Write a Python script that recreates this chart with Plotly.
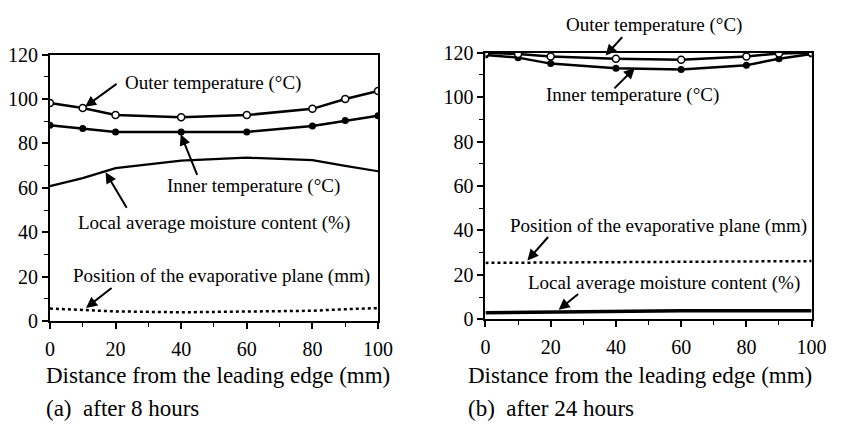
import plotly.graph_objects as go

W, H = 852, 428

# ---- data ----
x_pos = [0, 10, 20, 40, 60, 80, 90, 100]

a_outer = [98.2, 96.0, 92.8, 91.8, 92.8, 95.6, 100.0, 103.6]
a_inner = [88.2, 86.8, 85.2, 85.2, 85.2, 87.9, 90.3, 92.5]
a_moist = [60.8, 64.4, 68.9, 72.3, 73.6, 72.5, 69.9, 67.5]
a_plane = [5.7, 5.0, 4.4, 4.0, 4.3, 4.7, 5.4, 5.9]

b_outer = [120.0, 119.4, 118.3, 117.3, 116.8, 118.3, 119.7, 120.0]
b_inner = [119.0, 117.8, 115.1, 113.0, 112.5, 114.4, 117.3, 119.4]
b_moist = [2.9, 3.1, 3.3, 3.6, 3.9, 3.9, 3.9, 3.9]
b_plane = [25.4, 25.5, 25.6, 25.7, 25.8, 25.9, 26.0, 26.2]

x_ticks = [0, 20, 40, 60, 80, 100]
y_ticks = [0, 20, 40, 60, 80, 100, 120]

lbl_outer = "Outer temperature (°C)"
lbl_inner = "Inner temperature (°C)"
lbl_moist = "Local average moisture content (%)"
lbl_plane = "Position of the evaporative plane (mm)"
x_title = "Distance from the leading edge (mm)"
sub_a = "(a)\u00a0\u00a0after 8 hours"
sub_b = "(b)\u00a0\u00a0after 24 hours"

FONT = "'Liberation Serif', 'Times New Roman', 'DejaVu Serif', serif"

def px(x):
    return x / W

def py(y):
    return 1 - y / H

fig = go.Figure()

def add_panel(xa, ya, outer, inner, moist, plane, moist_w):
    fig.add_trace(go.Scatter(x=x_pos, y=moist, mode="lines", xaxis=xa, yaxis=ya,
                             line=dict(color="black", width=moist_w), showlegend=False))
    fig.add_trace(go.Scatter(x=x_pos, y=plane, mode="lines", xaxis=xa, yaxis=ya,
                             line=dict(color="black", width=2.5, dash="dot"), showlegend=False))
    fig.add_trace(go.Scatter(x=x_pos, y=inner, mode="lines+markers", xaxis=xa, yaxis=ya,
                             line=dict(color="black", width=2.5),
                             marker=dict(color="black", size=7, symbol="circle"),
                             showlegend=False))
    fig.add_trace(go.Scatter(x=x_pos, y=outer, mode="lines+markers", xaxis=xa, yaxis=ya,
                             line=dict(color="black", width=2.5),
                             marker=dict(color="white", size=7, symbol="circle",
                                         line=dict(color="black", width=1.5)),
                             showlegend=False))

add_panel("x", "y", a_outer, a_inner, a_moist, a_plane, 2.2)
add_panel("x2", "y2", b_outer, b_inner, b_moist, b_plane, 3.5)

def xaxis(domain, anchor):
    return dict(domain=domain, anchor=anchor, range=[0, 100], tickvals=x_ticks,
                ticks="outside", ticklen=6, tickwidth=1.5, tickcolor="black",
                minor=dict(dtick=10, ticks="outside", ticklen=4, tickwidth=1.2, tickcolor="black"),
                showline=True, linecolor="black", linewidth=2, mirror=True,
                showgrid=False, zeroline=False, ticklabelstandoff=3,
                tickfont=dict(family=FONT, size=20, color="black"))

def yaxis(domain, anchor):
    return dict(domain=domain, anchor=anchor, range=[0, 120], tickvals=y_ticks,
                ticks="outside", ticklen=6, tickwidth=1.5, tickcolor="black",
                minor=dict(dtick=10, ticks="outside", ticklen=4, tickwidth=1.2, tickcolor="black"),
                showline=True, linecolor="black", linewidth=2, mirror=True,
                showgrid=False, zeroline=False,
                tickfont=dict(family=FONT, size=20, color="black"))

fig.update_layout(
    width=W, height=H, margin=dict(l=0, r=0, t=0, b=0),
    paper_bgcolor="white", plot_bgcolor="white",
    font=dict(family=FONT, color="black"),
    xaxis=xaxis([px(46), px(382)], "y"),
    yaxis=yaxis([py(327), py(46)], "x"),
    xaxis2=xaxis([px(492), px(826)], "y2"),
    yaxis2=yaxis([py(325), py(44)], "x2"),
)

anns = []

def text(t, cx, cy, size=19, xanchor="center"):
    anns.append(dict(text=t, x=px(cx), y=py(cy), xref="paper", yref="paper",
                     showarrow=False, xanchor=xanchor, yanchor="middle",
                     font=dict(family=FONT, size=size, color="black")))

def arrow(hx, hy, tx, ty):
    anns.append(dict(text="", x=px(hx), y=py(hy), xref="paper", yref="paper",
                     ax=tx - hx, ay=ty - hy, showarrow=True, arrowhead=2,
                     arrowsize=1.1, arrowwidth=2, arrowcolor="black"))

# panel (a)
text(lbl_outer, 213, 76)
arrow(82, 101, 115, 77)
text(lbl_inner, 254, 185)
arrow(180, 130, 197, 172)
text(lbl_moist, 214, 223)
arrow(103, 170, 125, 207)
text(lbl_plane, 222, 279)
arrow(83, 313, 110, 292)
# panel (b)
text(lbl_outer, 665, 15)
arrow(615, 47, 633, 27)
text(lbl_inner, 643, 89)
arrow(645, 60, 623, 82)
text(lbl_plane, 669, 227)
arrow(535, 263, 557, 238)
text(lbl_moist, 675, 287)
arrow(567, 315, 588, 298)

# axis titles and subtitles
text(x_title, 40, 384, size=23, xanchor="left")
text(sub_a, 40, 419, size=23, xanchor="left")
text(x_title, 472, 384, size=23, xanchor="left")
text(sub_b, 472, 419, size=23, xanchor="left")

fig.update_layout(annotations=anns)
fig.write_html("out.html")
